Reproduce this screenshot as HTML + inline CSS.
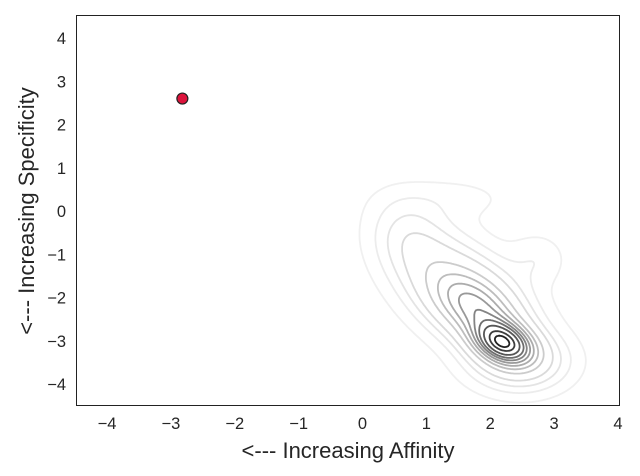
<!DOCTYPE html>
<html><head><meta charset="utf-8"><style>
body{margin:0;background:#fff;}
svg{display:block;font-family:"Liberation Sans",Arial,sans-serif;}
</style></head><body>
<svg id="chart" width="640" height="476">
<g id="contours"></g>
<g id="pts"></g>
<rect x="76.5" y="15.5" width="543" height="390" fill="none" stroke="#222" stroke-width="1"/>
<g id="xt"></g>
<g id="yt"></g>
<text x="348" y="458" text-anchor="middle" font-size="22" fill="#262626">&lt;--- Increasing Affinity</text>
<text transform="translate(34,211) rotate(-90)" text-anchor="middle" font-size="22" fill="#262626">&lt;--- Increasing Specificity</text>
</svg>
<script>
const xTicks=[-4,-3,-2,-1,0,1,2,3,4];
const yTicks=[-4,-3,-2,-1,0,1,2,3,4];
const pointX=[-2.82];
const pointY=[2.6];
// Gaussian mixture approximating KDE: centers, sigmas, rho, weights
const compX=[2.2,1.8,1.6,0.75,1.4,2.75,2.45];
const compY=[-3.05,-2.3,-1.9,-0.6,0.3,-1.1,-3.5];
const compSX=[0.3,0.45,0.7,0.4,0.7,0.3,0.5];
const compSY=[0.32,0.55,0.9,0.6,0.35,0.4,0.45];
const compRho=[-0.3,-0.5,-0.5,-0.2,0,0,0];
const compW=[1.0,0.45,0.35,0.12,0.05,0.07,0.25];
const levels=[0.025,0.06,0.1,0.15,0.24,0.32,0.4,0.48,0.56,0.64,0.74,0.86,0.95];

const NS="http://www.w3.org/2000/svg";
const sx=v=>107+(v+4)*63.875;
const sy=v=>211-v*43.25;
function mk(tag,attrs,parent){const e=document.createElementNS(NS,tag);for(const k in attrs)e.setAttribute(k,attrs[k]);parent.appendChild(e);return e;}

const xt=document.getElementById('xt');
xTicks.forEach(t=>{const e=mk('text',{x:sx(t),y:429,'text-anchor':'middle','font-size':16.5,fill:'#262626'},xt);


e.textContent=(t<0?'\u2212'+(-t):t);});
const yt=document.getElementById('yt');
yTicks.forEach(t=>{const e=mk('text',{x:66,y:sy(t)+6,'text-anchor':'end','font-size':16.5,fill:'#262626'},yt);


e.textContent=(t<0?'\u2212'+(-t):t);});

function dens(x,y){let s=0;for(let i=0;i<compX.length;i++){const dx=(x-compX[i])/compSX[i],dy=(y-compY[i])/compSY[i],r=compRho[i];
s+=compW[i]*Math.exp(-(dx*dx-2*r*dx*dy+dy*dy)/(2*(1-r*r)));}return s;}
const x0=-0.6,x1=4.3,y0=-5,y1=1.8,st=0.025;
const nx=Math.ceil((x1-x0)/st),ny=Math.ceil((y1-y0)/st);
const G=[];let mx=0;
for(let j=0;j<=ny;j++){const row=[];for(let i=0;i<=nx;i++){const v=dens(x0+i*st,y0+j*st);row.push(v);if(v>mx)mx=v;}G.push(row);}
const cg=document.getElementById('contours');
levels.forEach((lf,li)=>{const L=lf*mx;let d='';
for(let j=0;j<ny;j++)for(let i=0;i<nx;i++){
const a=G[j][i],b=G[j][i+1],c=G[j+1][i+1],e=G[j+1][i];
const P=[];
const xa=x0+i*st,ya=y0+j*st;
const edge=(v1,v2,p1,p2)=>{if((v1>=L)!==(v2>=L)){const t=(L-v1)/(v2-v1);P.push([p1[0]+t*(p2[0]-p1[0]),p1[1]+t*(p2[1]-p1[1])]);}};
edge(a,b,[xa,ya],[xa+st,ya]);edge(b,c,[xa+st,ya],[xa+st,ya+st]);
edge(c,e,[xa+st,ya+st],[xa,ya+st]);edge(e,a,[xa,ya+st],[xa,ya]);
for(let k=0;k+1<P.length;k+=2)d+='M'+sx(P[k][0]).toFixed(1)+' '+sy(P[k][1]).toFixed(1)+'L'+sx(P[k+1][0]).toFixed(1)+' '+sy(P[k+1][1]).toFixed(1);}
const g=Math.round(240-(240-34)*Math.pow(li/(levels.length-1),1.6));
const p=mk('path',{d:d,fill:'none',stroke:`rgb(${g},${g},${g})`,'stroke-width':1.8,'stroke-linecap':'round'},cg);

});

const pg=document.getElementById('pts');
pointX.forEach((v,i)=>{const c=mk('circle',{cx:sx(v),cy:sy(pointY[i]),r:5.5,fill:'#dc143c',stroke:'#222','stroke-width':1.2},pg);

});
</script>
</body></html>
